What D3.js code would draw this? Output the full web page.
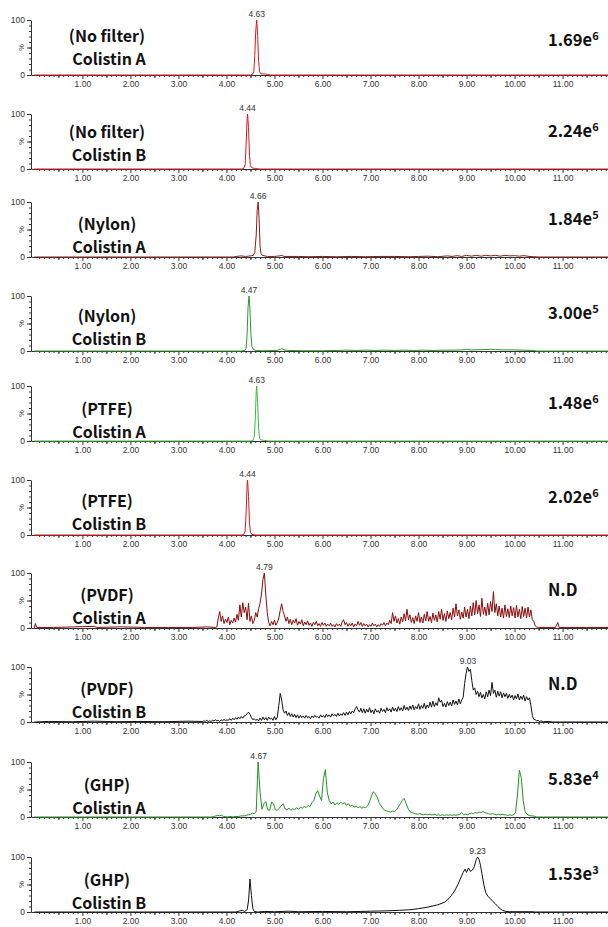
<!DOCTYPE html>
<html>
<head>
<meta charset="utf-8">
<script src="https://cdn.jsdelivr.net/npm/d3@7"></script>
<style>
  body { margin: 0; background: #fff; }
  svg { display: block; }
  .tick text { font-family: "Liberation Sans", Arial, sans-serif; }
</style>
</head>
<body>
<svg id="chart" width="608" height="927"></svg>
<script>
// ---- panel texts ----
const filters = ['(No filter)', '(No filter)', '(Nylon)', '(Nylon)', '(PTFE)', '(PTFE)', '(PVDF)', '(PVDF)', '(GHP)', '(GHP)'];
const analytes = ['Colistin A', 'Colistin B', 'Colistin A', 'Colistin B', 'Colistin A', 'Colistin B', 'Colistin A', 'Colistin B', 'Colistin A', 'Colistin B'];
const intensityBase = ['1.69e', '2.24e', '1.84e', '3.00e', '1.48e', '2.02e', 'N.D', 'N.D', '5.83e', '1.53e'];
const intensityExp = ['6', '6', '5', '5', '6', '6', '', '', '4', '3'];
const peakLabels = ['4.63', '4.44', '4.66', '4.47', '4.63', '4.44', '4.79', '9.03', '4.67', '9.23'];
const xTicks = [1, 2, 3, 4, 5, 6, 7, 8, 9, 10, 11];
const yTicks = [0, 100];

// ---- traces: [time (min), relative intensity %] ----
const noFilterA = [[0, 0], [4.50, 0], [4.54, 1], [4.57, 6], [4.59, 35], [4.61, 80], [4.63, 100], [4.65, 72], [4.67, 25], [4.69, 6], [4.72, 2], [4.80, 2], [4.86, 1], [4.92, 0], [12, 0]];
const noFilterB = [[0, 0], [4.32, 0], [4.36, 1], [4.39, 8], [4.41, 45], [4.43, 90], [4.44, 100], [4.46, 75], [4.48, 25], [4.50, 6], [4.53, 2], [4.60, 1], [4.68, 0], [12, 0]];
const nylonA = [[0, 0], [4.15, 0], [4.2, 1], [4.3, 2], [4.4, 1], [4.5, 2], [4.56, 3], [4.59, 8], [4.62, 40], [4.64, 85], [4.66, 100], [4.68, 70], [4.70, 20], [4.72, 6], [4.75, 3], [4.85, 1], [5.0, 1], [5.1, 2], [5.15, 3], [5.2, 1], [5.5, 1], [5.7, 0.5], [6.0, 1], [6.3, 0.5], [6.6, 1], [6.9, 0.5], [7.2, 1], [7.5, 1], [7.8, 0.5], [8.0, 1], [8.2, 1.5], [8.4, 0.5], [8.6, 2], [8.7, 1], [8.8, 2.5], [8.9, 1], [9.0, 3], [9.1, 1.5], [9.2, 3], [9.3, 1.5], [9.4, 3], [9.5, 2], [9.6, 3], [9.7, 1.5], [9.8, 3], [9.9, 2], [10.0, 2.5], [10.1, 1.5], [10.2, 2.5], [10.3, 1], [10.4, 0.5], [10.5, 0], [12, 0]];
const nylonB = [[0, 0], [4.3, 0], [4.38, 1], [4.41, 5], [4.43, 30], [4.45, 80], [4.47, 100], [4.49, 75], [4.51, 30], [4.53, 8], [4.56, 3], [4.62, 1], [4.75, 0.5], [5.05, 1], [5.12, 3], [5.16, 4], [5.2, 2], [5.3, 1], [5.6, 0.5], [6.0, 0.5], [6.3, 1], [6.5, 1.5], [6.7, 1], [6.9, 1.5], [7.1, 1], [7.3, 1.5], [7.5, 1], [7.7, 1.5], [7.9, 1], [8.1, 1.5], [8.3, 1], [8.5, 1.5], [8.7, 1.5], [8.9, 2], [9.0, 3], [9.1, 2], [9.3, 2.5], [9.5, 3], [9.6, 2.5], [9.8, 2], [10.0, 2], [10.2, 1.5], [10.4, 1], [10.45, 0], [12, 0]];
const ptfeA = [[0, 0], [4.50, 0], [4.55, 1], [4.58, 8], [4.60, 40], [4.62, 90], [4.63, 100], [4.65, 70], [4.67, 22], [4.69, 5], [4.72, 2], [4.80, 1], [4.88, 0], [12, 0]];
const ptfeB = [[0, 0], [4.32, 0], [4.36, 1], [4.39, 7], [4.41, 40], [4.43, 92], [4.44, 100], [4.46, 70], [4.48, 22], [4.50, 5], [4.53, 1], [4.62, 0], [12, 0]];

// PVDF A: quiet start, then a noisy run sampled every 0.03 min from 3.80
const pvdfAHead = [[0, 0], [0.02, 8], [0.05, 1], [0.4, 1], [0.8, 2], [1.25, 3], [1.3, 1], [1.8, 2], [2.3, 1], [2.8, 1], [3.3, 1], [3.6, 2], [3.77, 1]];
const pvdfAStart = 3.80;
const pvdfAStep = 0.03;
const pvdfAValues = [2, 18, 30, 12, 22, 8, 16, 10, 20, 6, 14, 9, 18, 11, 25, 14, 42, 20, 46, 28,
  38, 15, 45, 12, 22, 8, 14, 28, 20, 35, 45, 62, 88, 100, 60, 28, 10, 4, 12, 6,
  14, 5, 10, 18, 32, 44, 30, 22, 12, 20, 8, 16, 6, 14, 9, 17, 5, 12, 7, 15,
  4, 11, 6, 13, 5, 9, 3, 10, 6, 12, 4, 8, 3, 10, 5, 9, 3, 7, 4, 9,
  3, 6, 2, 8, 4, 7, 3, 11, 15, 6, 10, 3, 8, 4, 9, 2, 7, 4, 12, 5,
  10, 3, 8, 4, 7, 2, 6, 3, 9, 4, 7, 2, 6, 3, 8, 5, 10, 4, 9, 6,
  14, 8, 28, 12, 22, 9, 17, 7, 20, 11, 26, 13, 34, 15, 24, 10, 19, 8, 22, 12,
  28, 10, 20, 9, 25, 13, 30, 12, 21, 10, 27, 14, 24, 11, 30, 16, 34, 14, 26, 12,
  31, 17, 28, 15, 36, 20, 44, 22, 33, 16, 29, 18, 38, 20, 34, 17, 40, 22, 46, 24,
  50, 26, 42, 21, 54, 25, 38, 22, 45, 24, 48, 30, 66, 28, 44, 22, 40, 20, 36, 18,
  42, 21, 35, 19, 40, 22, 37, 18, 41, 20, 34, 17, 39, 21, 36, 18, 38, 20, 33, 15,
  12, 4, 2];
const pvdfATail = [[10.5, 1], [10.85, 1], [10.9, 10], [10.93, 1], [11.5, 1], [12, 1]];

// PVDF B: noisy run sampled every 0.03 min from 3.50
const pvdfBHead = [[0, 0], [0.3, 1], [0.8, 0.5], [1.25, 1.5], [1.7, 0.5], [2.2, 1], [2.7, 0.5], [3.2, 1.5], [3.47, 1]];
const pvdfBStart = 3.50;
const pvdfBStep = 0.03;
const pvdfBValues = [1, 2, 1, 3, 1, 2, 1, 3, 2, 4, 2, 3, 1, 4, 2, 5, 2, 4, 3, 6,
  3, 7, 4, 8, 5, 9, 6, 10, 7, 11, 12, 15, 18, 14, 8, 4, 6, 3, 5, 2,
  7, 3, 9, 4, 8, 3, 9, 5, 7, 3, 10, 4, 9, 30, 52, 40, 22, 16, 20, 12,
  17, 10, 15, 9, 14, 8, 13, 7, 12, 8, 11, 7, 12, 8, 10, 6, 11, 8, 12, 9,
  10, 7, 13, 9, 12, 8, 14, 10, 13, 9, 15, 11, 14, 10, 16, 11, 15, 12, 17, 12,
  18, 13, 19, 15, 20, 17, 24, 28, 22, 18, 25, 17, 24, 16, 23, 18, 26, 17, 22, 15,
  24, 18, 21, 16, 25, 19, 23, 17, 26, 20, 24, 18, 27, 20, 25, 19, 28, 21, 26, 20,
  30, 22, 27, 21, 29, 23, 31, 22, 28, 24, 33, 23, 30, 25, 34, 24, 31, 26, 36, 27,
  38, 28, 35, 30, 44, 36, 40, 28, 34, 27, 37, 30, 36, 29, 40, 32, 38, 31, 42, 33,
  40, 45, 70, 88, 100, 92, 96, 75, 58, 62, 50, 56, 46, 54, 44, 50, 42, 55, 46, 58,
  48, 72, 52, 58, 45, 56, 47, 55, 44, 53, 46, 52, 43, 50, 44, 49, 40, 48, 42, 51,
  40, 47, 41, 49, 38, 46, 40, 44, 30, 12, 5, 4, 2, 3, 1, 2];
const pvdfBTail = [[10.6, 0.5], [10.7, 1], [10.8, 0], [12, 0]];

// GHP A: sampled every 0.04 min from 3.70
const ghpAHead = [[0, 0], [3.66, 0]];
const ghpAStart = 3.70;
const ghpAStep = 0.04;
const ghpAValues = [0, 1, 2, 3, 2, 3, 1, 1, 0, 1, 1, 0, 1, 1, 1, 2, 2, 2, 3, 4,
  5, 7, 6, 10, 100, 45, 14, 24, 28, 13, 12, 27, 24, 13, 12, 16, 20, 24, 15, 13,
  16, 12, 15, 13, 17, 14, 18, 16, 19, 17, 21, 19, 26, 30, 42, 48, 38, 30, 70, 86,
  45, 30, 24, 27, 22, 26, 23, 27, 24, 26, 21, 24, 19, 22, 18, 20, 17, 19, 16, 18,
  17, 20, 28, 38, 46, 42, 36, 26, 20, 15, 12, 11, 10, 9, 11, 10, 13, 18, 24, 30,
  34, 25, 16, 10, 8, 7, 6, 5, 6, 5, 4, 5, 4, 5, 4, 4, 5, 3, 4, 3,
  4, 3, 4, 3, 4, 3, 4, 3, 4, 5, 8, 4, 5, 4, 6, 7, 6, 8, 7, 9,
  8, 10, 8, 7, 6, 5, 6, 5, 4, 5, 4, 5, 4, 4, 3, 4, 3, 4, 8, 40,
  85, 72, 30, 10, 5, 3, 2, 2, 1, 0];
const ghpATail = [[10.6, 0], [12, 0]];

const ghpB = [[0, 0], [4.2, 0], [4.28, 2], [4.33, 3], [4.38, 1], [4.43, 4], [4.46, 20], [4.49, 60], [4.52, 30], [4.55, 6], [4.58, 1], [4.65, 0], [4.8, 1], [5.0, 0.5], [5.3, 1.5], [5.5, 0.5], [6.0, 1], [6.5, 0.5], [6.8, 1], [7.0, 1.5], [7.3, 2], [7.6, 3], [7.8, 4], [8.0, 6], [8.2, 9], [8.4, 13], [8.55, 18], [8.65, 26], [8.75, 38], [8.82, 50], [8.88, 62], [8.93, 72], [8.97, 78], [9.0, 72], [9.04, 80], [9.08, 74], [9.12, 76], [9.16, 82], [9.2, 95], [9.23, 100], [9.26, 96], [9.29, 85], [9.32, 70], [9.36, 50], [9.40, 35], [9.45, 28], [9.5, 24], [9.55, 19], [9.6, 15], [9.65, 10], [9.7, 6], [9.75, 3], [9.82, 1], [9.9, 0.5], [10.4, 0.5], [10.42, 0], [12, 0]];

const sampled = (head, start, step, vals, tail) =>
  head.concat(vals.map((v, i) => [start + i * step, v]), tail);

const traces = [
  noFilterA, noFilterB, nylonA, nylonB, ptfeA, ptfeB,
  sampled(pvdfAHead, pvdfAStart, pvdfAStep, pvdfAValues, pvdfATail),
  sampled(pvdfBHead, pvdfBStart, pvdfBStep, pvdfBValues, pvdfBTail),
  sampled(ghpAHead, ghpAStart, ghpAStep, ghpAValues, ghpATail),
  ghpB
];
const colors = ['#e3141c', '#e3141c', '#8c1a1a', '#2a9a2a', '#3cba3c', '#e3141c', '#8b0a0a', '#111111', '#239123', '#111111'];

// ---- layout ----
const baselines = [75, 169, 257, 351, 441, 535, 628, 722, 817, 912];
const labelShift = [-6, -4, 0, -2, 1, -1, 0, 0, 1, 1];
const plotH = 55;
const axisLeft = 31;

const svg = d3.select('#chart');

const x = d3.scaleLinear()
  .domain([-0.07, 12.05])
  .range([axisLeft, 613]);

const minorTicks = d3.range(1, 121).map(i => i / 10).filter(t => !xTicks.includes(t));
const halfTicks = minorTicks.filter(t => Math.abs(t * 2 - Math.round(t * 2)) < 1e-6);

traces.forEach((data, i) => {
  const base = baselines[i];
  const y = d3.scaleLinear().domain([0, 100]).range([base, base - plotH]);
  const g = svg.append('g');

  // x axis: minor, half and major ticks
  g.append('g')
    .attr('transform', 'translate(0,' + base + ')')
    .call(d3.axisBottom(x).tickValues(minorTicks).tickSize(2).tickSizeOuter(0).tickFormat(''))
    .call(a => a.selectAll('line,path').attr('stroke', '#333'));
  g.append('g')
    .attr('transform', 'translate(0,' + base + ')')
    .call(d3.axisBottom(x).tickValues(halfTicks).tickSize(3).tickSizeOuter(0).tickFormat(''))
    .call(a => a.select('.domain').remove())
    .call(a => a.selectAll('line').attr('stroke', '#333'));
  g.append('g')
    .attr('transform', 'translate(0,' + base + ')')
    .call(d3.axisBottom(x).tickValues(xTicks).tickSize(4).tickSizeOuter(0).tickPadding(2).tickFormat(d3.format('.2f')))
    .call(a => a.select('.domain').remove())
    .call(a => a.selectAll('line').attr('stroke', '#333'))
    .call(a => a.selectAll('text').attr('font-size', 8.5).attr('fill', '#333'));

  // y axis
  g.append('g')
    .attr('transform', 'translate(' + axisLeft + ',0)')
    .call(d3.axisLeft(y).tickValues(d3.range(10, 100, 10)).tickSize(2).tickSizeOuter(0).tickFormat(''))
    .call(a => a.selectAll('line,path').attr('stroke', '#333'));
  g.append('g')
    .attr('transform', 'translate(' + axisLeft + ',0)')
    .call(d3.axisLeft(y).tickValues([0, 50, 100]).tickSize(4).tickSizeOuter(0)
      .tickFormat(d => yTicks.includes(d) ? d : ''))
    .call(a => a.select('.domain').remove())
    .call(a => a.selectAll('line').attr('stroke', '#333'))
    .call(a => a.selectAll('text').attr('font-size', 8.5).attr('fill', '#333').attr('dx', '1'));
  g.append('text')
    .attr('transform', 'translate(' + (axisLeft - 7) + ',' + y(50) + ') rotate(-90)')
    .attr('text-anchor', 'middle')
    .attr('font-family', 'Liberation Sans, Arial, sans-serif')
    .attr('font-size', 7.5)
    .attr('fill', '#333')
    .text('%');

  // trace
  const line = d3.line()
    .x(d => x(d[0]))
    .y(d => y(d[1]));
  g.append('path')
    .datum(data)
    .attr('fill', 'none')
    .attr('stroke', colors[i])
    .attr('stroke-width', 1)
    .attr('stroke-linejoin', 'round')
    .attr('d', line);

  // peak label
  g.append('text')
    .attr('x', x(+peakLabels[i]))
    .attr('y', y(100) - 3)
    .attr('text-anchor', 'middle')
    .attr('font-family', 'Liberation Sans, Arial, sans-serif')
    .attr('font-size', 8.5)
    .attr('fill', '#333')
    .text(peakLabels[i]);

  // sample labels
  const top = base - plotH;
  g.append('text')
    .attr('x', 107)
    .attr('y', top + 28 + labelShift[i])
    .attr('text-anchor', 'middle')
    .attr('font-family', '"Noto Sans CJK KR", "Noto Sans", sans-serif')
    .attr('font-weight', 700)
    .attr('font-size', 16)
    .attr('fill', '#111')
    .text(filters[i]);
  g.append('text')
    .attr('x', 109)
    .attr('y', top + 51 + labelShift[i])
    .attr('text-anchor', 'middle')
    .attr('font-family', '"Noto Sans CJK KR", "Noto Sans", sans-serif')
    .attr('font-weight', 700)
    .attr('font-size', 16)
    .attr('fill', '#111')
    .text(analytes[i]);

  // intensity
  const it = g.append('text')
    .attr('x', 548)
    .attr('y', top + 23 + (i === 0 ? 3 : 0))
    .attr('font-family', '"Noto Sans CJK KR", "Noto Sans", sans-serif')
    .attr('font-weight', 700)
    .attr('font-size', 16.5)
    .attr('fill', '#111');
  it.append('tspan').text(intensityBase[i]);
  if (intensityExp[i]) {
    it.append('tspan')
      .attr('dy', -6)
      .attr('font-size', 11)
      .text(intensityExp[i]);
  }
});
</script>
</body>
</html>
